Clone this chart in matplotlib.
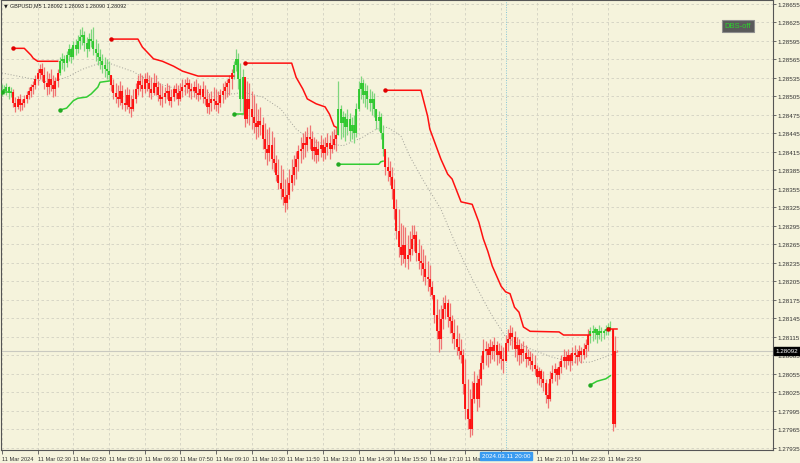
import numpy as np
import matplotlib
matplotlib.use("Agg")
from matplotlib import pyplot as plt

plt.rcParams['font.family'] = ['Liberation Sans Narrow', 'Liberation Sans', 'DejaVu Sans']

# GBPUSD M5, 11 Mar 2024 from 01:10, prices stored as points above 1.28000
BASE = 1.28000
POINT = 0.00001

high = [
    525, 524, 527, 522, 520, 517, 504, 506, 509, 501,
    507, 514, 520, 525, 530, 540, 549, 558, 559, 553,
    546, 543, 549, 540, 536, 549, 569, 575, 572, 579,
    590, 585, 595, 598, 605, 614, 618, 611, 601, 608,
    614, 618, 598, 592, 582, 574, 569, 566, 562, 540,
    533, 527, 524, 530, 524, 517, 520, 517, 507, 517,
    527, 540, 543, 540, 543, 545, 540, 536, 543, 540,
    530, 527, 524, 520, 527, 524, 517, 524, 527, 524,
    527, 533, 533, 536, 533, 527, 530, 533, 527, 524,
    530, 524, 517, 510, 514, 520, 517, 514, 517, 527,
    530, 533, 540, 549, 562, 582, 575, 559, 549, 533,
    530, 527, 514, 507, 494, 485, 488, 472, 462, 452,
    455, 449, 439, 410, 403, 394, 387, 371, 374, 387,
    403, 410, 416, 426, 439, 446, 449, 455, 459, 449,
    439, 436, 433, 442, 436, 439, 446, 442, 449, 452,
    455, 530, 491, 481, 478, 485, 478, 472, 475, 494,
    530, 538, 533, 527, 524, 517, 514, 510, 485, 481,
    478, 459, 416, 407, 400, 390, 371, 339, 322, 300,
    296, 293, 280, 287, 296, 296, 287, 274, 264, 257,
    248, 238, 232, 206, 183, 176, 160, 167, 180, 183,
    176, 170, 150, 144, 134, 121, 112, 95, 79, 47,
    30, 43, 60, 53, 63, 86, 112, 108, 105, 112,
    108, 115, 108, 105, 102, 99, 118, 128, 134, 131,
    124, 115, 112, 105, 108, 102, 95, 92, 89, 86,
    69, 66, 63, 60, 47, 40, 60, 69, 73, 66,
    76, 86, 95, 92, 95, 89, 99, 102, 95, 102,
    99, 105, 112, 128, 131, 134, 131, 128, 134, 131,
    128, 134, 137, 141, 128, 116, 93,
]
low = [
    506, 509, 507, 501, 504, 488, 480, 485, 481, 483,
    488, 494, 501, 504, 509, 517, 524, 533, 530, 517,
    507, 509, 514, 504, 506, 520, 540, 549, 546, 553,
    562, 559, 566, 572, 575, 582, 588, 579, 569, 579,
    585, 572, 562, 556, 549, 543, 536, 533, 530, 514,
    501, 494, 488, 491, 485, 481, 485, 478, 472, 481,
    494, 507, 514, 504, 510, 514, 504, 501, 507, 507,
    498, 491, 488, 494, 501, 491, 488, 498, 501, 491,
    498, 504, 507, 510, 504, 501, 504, 501, 498, 501,
    494, 491, 478, 476, 481, 485, 481, 478, 488, 494,
    501, 504, 507, 517, 533, 546, 517, 481, 476, 455,
    462, 459, 452, 446, 436, 439, 442, 420, 403, 394,
    400, 387, 382, 368, 355, 339, 329, 318, 322, 339,
    352, 361, 371, 384, 397, 403, 407, 416, 420, 403,
    400, 397, 400, 407, 400, 403, 410, 403, 413, 420,
    416, 442, 436, 439, 433, 442, 433, 436, 429, 439,
    481, 501, 494, 488, 485, 481, 475, 472, 452, 449,
    436, 408, 378, 368, 361, 339, 306, 274, 245, 232,
    235, 228, 225, 238, 248, 254, 238, 225, 215, 206,
    199, 189, 181, 176, 137, 112, 90, 95, 128, 144,
    131, 121, 105, 95, 86, 79, 73, 22, -18, -34,
    -47, -44, 8, -5, 1, 37, 63, 69, 66, 73,
    79, 76, 69, 73, 63, 56, 76, 92, 102, 95,
    82, 76, 69, 73, 76, 66, 69, 63, 60, 53,
    40, 37, 34, 27, 8, 0, 11, 40, 43, 37,
    47, 56, 66, 63, 69, 60, 69, 73, 69, 76,
    73, 79, 82, 92, 105, 108, 112, 105, 112, 108,
    112, 118, 118, 124, -38, -31, 90,
]
close = [
    517, 514, 520, 510, 512, 494, 488, 501, 491, 494,
    501, 507, 514, 520, 524, 533, 543, 549, 540, 527,
    520, 533, 524, 517, 530, 543, 562, 566, 559, 572,
    582, 569, 588, 582, 595, 601, 605, 592, 582, 598,
    595, 582, 575, 569, 562, 556, 549, 546, 540, 524,
    510, 504, 501, 514, 494, 491, 507, 488, 485, 501,
    517, 530, 524, 517, 533, 527, 517, 510, 527, 520,
    507, 501, 504, 510, 514, 498, 504, 517, 510, 501,
    514, 520, 524, 527, 517, 514, 520, 510, 507, 517,
    504, 501, 488, 494, 501, 498, 491, 494, 507, 514,
    520, 527, 533, 543, 556, 566, 533, 501, 536, 468,
    501, 485, 472, 462, 455, 465, 459, 436, 420, 413,
    426, 403, 397, 378, 365, 355, 342, 332, 345, 365,
    378, 390, 403, 416, 420, 429, 426, 439, 436, 416,
    423, 410, 420, 426, 413, 423, 429, 420, 426, 436,
    442, 485, 462, 472, 455, 468, 449, 459, 446, 485,
    517, 527, 507, 514, 501, 494, 501, 485, 465, 472,
    446, 420, 390, 384, 374, 355, 322, 287, 261, 248,
    264, 241, 248, 257, 274, 280, 251, 238, 235, 225,
    212, 209, 196, 183, 150, 124, 112, 144, 160, 170,
    147, 141, 121, 112, 99, 92, 86, 39, -2, -18,
    -34, 14, 40, 14, 47, 73, 92, 95, 86, 99,
    92, 102, 86, 92, 79, 76, 105, 112, 121, 115,
    95, 102, 86, 95, 89, 79, 82, 76, 69, 63,
    50, 60, 47, 40, 21, 14, 47, 56, 63, 53,
    66, 76, 82, 76, 86, 76, 89, 86, 82, 92,
    86, 95, 102, 118, 124, 121, 128, 118, 124, 121,
    124, 128, 131, 128, -26, 92, 92,
]
# bars painted green by the indicator (first, last bar index)
green_spans = [(0, 4), (26, 48), (104, 108), (151, 171), (264, 273)]

# indicator lines: (bar index list, points list)
resist_lines = [
    ([5, 10, 13, 14, 16, 25], [583, 583, 572, 567, 562, 562]),
    ([49, 61, 63, 68, 72, 77, 81, 88, 104], [598, 598, 585, 566, 562, 554, 546, 538, 538]),
    ([109, 130, 132, 135, 137, 141, 145, 147, 149, 150],
     [559, 559, 536, 517, 501, 493, 488, 476, 457, 455]),
    ([172, 188, 189, 191, 192, 197, 200, 202, 206, 211, 214, 216, 218, 220, 224, 226,
      228, 230, 232, 234, 237, 250, 252, 264],
     [515, 515, 501, 473, 452, 403, 379, 371, 334, 330, 301, 274, 254, 230, 197, 188,
      185, 163, 155, 131, 124, 123, 118, 118]),
    ([272, 276], [128, 128]),
]
support_lines = [
    ([0, 4], [512, 512]),
    ([26, 29, 32, 34, 38, 40, 43, 44, 48], [483, 486, 498, 502, 504, 509, 520, 528, 530]),
    ([104, 108], [476, 476]),
    ([151, 169, 170, 171], [395, 395, 399, 400]),
    ([264, 267, 271, 273], [37, 43, 47, 52]),
]
ma_idx = [0, 14, 21, 29, 36, 44, 48, 59, 66, 74, 81, 89, 104, 108, 117, 125, 132, 140,
          147, 153, 162, 168, 173, 179, 183, 189, 197, 204, 211, 219, 226, 234, 241,
          247, 256, 264, 272, 276]
ma_pts = [543, 533, 528, 536, 549, 559, 559, 545, 530, 522, 514, 512, 509, 512, 504, 485,
          452, 431, 428, 425, 439, 452, 455, 441, 408, 369, 322, 262, 209, 155, 115, 100,
          90, 82, 74, 74, 84, 90]

last_price = 1.28092
cross_bar = 226
cross_label = "2024.03.11 20:00"
header = "GBPUSD,M5 1.28092 1.28093 1.28090 1.28092"

xtick_bars = list(range(0, 273, 16))
xtick_labels = ["11 Mar 2024", "11 Mar 02:30", "11 Mar 03:50", "11 Mar 05:10",
                "11 Mar 06:30", "11 Mar 07:50", "11 Mar 09:10", "11 Mar 10:30",
                "11 Mar 11:50", "11 Mar 13:10", "11 Mar 14:30", "11 Mar 15:50",
                "11 Mar 17:10", "11 Mar 18:30", "", "11 Mar 21:10",
                "11 Mar 22:30", "11 Mar 23:50"]
ytick_vals = [1.27935 + 0.0003 * k for k in range(25)]

BG = '#F5F3DC'
W, H = 800, 464
FS = 4.5

def px(v):
    return BASE + np.asarray(v, dtype=float) * POINT

fig = plt.figure(figsize=(W / 100, H / 100), dpi=100, facecolor=BG)
ax = fig.add_axes([1 / W, 13 / H, 772 / W, 450 / H], facecolor=BG)
ax.set_xlim(-0.45, 346)
ax.set_ylim(1.279315, 1.286614)

# grid
ax.set_xticks(xtick_bars)
ax.set_yticks(ytick_vals)
ax.grid(True, color='#D2D1C2', linestyle=(0, (3, 3)), linewidth=0.6)
ax.set_axisbelow(True)

# bars
n = len(close)
x = np.arange(n)
hi, lo, cl = px(high), px(low), px(close)
op = np.r_[cl[0], cl[:-1]]
up = np.zeros(n, dtype=bool)
for a, b in green_spans:
    up[a:b + 1] = True
wick_c = np.where(up, '#7ED67E', '#F07474')
body_c = np.where(up, '#22C622', '#FF0000')
ax.vlines(x, lo, hi, colors=wick_c, linewidth=0.9, zorder=3)
ax.vlines(x, np.minimum(op, cl), np.maximum(op, cl), colors=body_c, linewidth=1.25, zorder=4)

# moving average
ax.plot(ma_idx, px(ma_pts), color='#A0A098', linewidth=0.7,
        linestyle=(0, (1, 2)), zorder=2)

# trailing lines
for idx, pts in resist_lines:
    ax.plot(idx, px(pts), color='#FF1010', linewidth=1.1, zorder=5)
    ax.plot(idx[0], px(pts[0]), 'o', color='#E00000', markersize=2.2, zorder=6)
for idx, pts in support_lines:
    ax.plot(idx, px(pts), color='#33CC33', linewidth=1.1, zorder=5)
    ax.plot(idx[0], px(pts[0]), 'o', color='#22AA22', markersize=2.2, zorder=6)

# price line and crosshair
ax.axhline(last_price, color='#C9C9C0', linewidth=0.8, zorder=1)
ax.axvline(cross_bar, color='#86C6D6', linewidth=0.7, linestyle=(0, (1, 1.5)), zorder=1)

# axes styling
for s in ax.spines.values():
    s.set_color('#555555')
    s.set_linewidth(0.8)
ax.yaxis.tick_right()
ax.tick_params(axis='y', length=2.5, width=0.6, color='#555555', pad=1,
               labelsize=FS, labelcolor='#333333')
ax.tick_params(axis='x', length=3, width=0.6, color='#555555', pad=1.5,
               labelsize=4.1, labelcolor='#333333')
ax.set_yticklabels([f"{v:.5f}" for v in ytick_vals])
ax.set_xticklabels(xtick_labels)
for t in ax.get_xticklabels():
    t.set_horizontalalignment('left')

# header
fig.text(4 / W, 1 - 6 / H, "\u25bc", fontsize=3.5, color='#222222', va='center',
         family='DejaVu Sans')
fig.text(10 / W, 1 - 6 / H, header, fontsize=3.9, color='#222222', va='center')

# DBS-off button
fig.text(738 / W, 1 - 27 / H, "DBS-off", fontsize=5.5, color='#2BD42B',
         ha='center', va='center', family='Liberation Sans',
         bbox=dict(boxstyle='square,pad=0.3', facecolor='#5A5A5A', edgecolor='#8E8E8E',
                   linewidth=0.8))

# last price box on axis
fig.text(787 / W, 1 - 352 / H, f"{last_price:.5f}", fontsize=FS, color='white',
         ha='center', va='center',
         bbox=dict(boxstyle='square,pad=0.2', facecolor='black', edgecolor='black'))

# crosshair time label (covers the 18:30 axis label, as in the terminal)
fig.text(506 / W, 1 - 457 / H, cross_label, fontsize=FS, color='white',
         ha='center', va='center',
         bbox=dict(boxstyle='square,pad=0.25', facecolor='#3A9BF0', edgecolor='#3A9BF0'))

fig.savefig("out.png", dpi=100, facecolor=BG)
